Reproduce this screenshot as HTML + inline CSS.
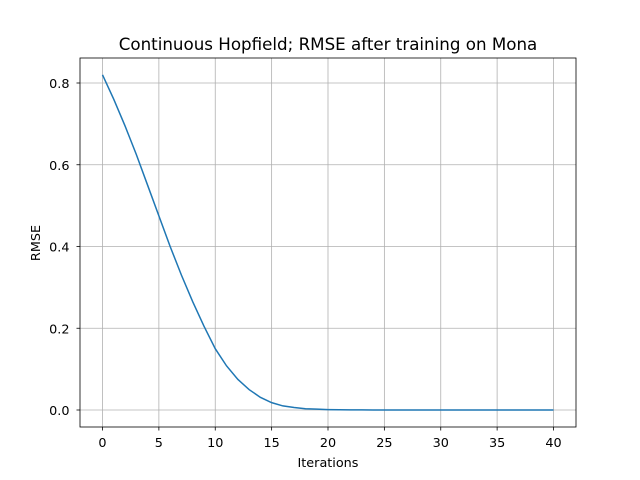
<!DOCTYPE html>
<html><head><meta charset="utf-8"><style>
body{margin:0;background:#fff;}
svg{display:block;font-family:"DejaVu Sans","Liberation Sans",sans-serif;}
</style></head><body>
<svg id="chart" width="640" height="480">
<rect x="0" y="0" width="640" height="480" fill="#fff"/>
<g id="grid"></g>
<g id="ticks"></g>
<path id="line" fill="none" stroke="#1f77b4" stroke-width="1.5"/>
<rect x="80" y="58" width="496" height="369" fill="none" stroke="#000" stroke-width="0.8"/>
<text x="328" y="50" font-size="16.7" text-anchor="middle">Continuous Hopfield; RMSE after training on Mona</text>
<text x="328" y="467" font-size="12.8" text-anchor="middle">Iterations</text>
<text x="40" y="243" font-size="12.8" text-anchor="middle" transform="rotate(-90 40 243)">RMSE</text>
</svg>
<script>
const iterations=[0,1,2,3,4,5,6,7,8,9,10,11,12,13,14,15,16,17,18,19,20,21,22,23,24,25,26,27,28,29,30,31,32,33,34,35,36,37,38,39,40];
const rmse=[0.82,0.76,0.695,0.625,0.55,0.475,0.40,0.33,0.265,0.205,0.15,0.108,0.075,0.05,0.031,0.018,0.01,0.006,0.003,0.002,0.001,0.0005,0.0003,0.0002,0.0001,0,0,0,0,0,0,0,0,0,0,0,0,0,0,0,0];
const xTicks=[0,5,10,15,20,25,30,35,40];
const yTicks=[0.0,0.2,0.4,0.6,0.8];
const yTickLabels=["0.0","0.2","0.4","0.6","0.8"];
const NS="http://www.w3.org/2000/svg";
function xs(v){return 102.5+v*(553.5-102.5)/40;}
function ys(v){return 410-v*(410-83)/0.8;}
const grid=document.getElementById('grid'),ticks=document.getElementById('ticks');
function mk(tag,attrs,parent){const e=document.createElementNS(NS,tag);for(const k in attrs)e.setAttribute(k,attrs[k]);parent.appendChild(e);return e;}
xTicks.forEach(t=>{const x=xs(t);
const g=mk('line',{x1:x,x2:x,y1:58,y2:427,stroke:'#b0b0b0','stroke-width':0.8},grid);


mk('line',{x1:x,x2:x,y1:427,y2:430.5,stroke:'#000','stroke-width':0.8},ticks);
const tx=mk('text',{x:x,y:447,'font-size':12.8,'text-anchor':'middle'},ticks);tx.textContent=t;

});
yTicks.forEach((t,i)=>{const y=ys(t);
const g=mk('line',{x1:80,x2:576,y1:y,y2:y,stroke:'#b0b0b0','stroke-width':0.8},grid);


mk('line',{x1:76.5,x2:80,y1:y,y2:y,stroke:'#000','stroke-width':0.8},ticks);
const tx=mk('text',{x:69.5,y:y+5,'font-size':12.8,'text-anchor':'end'},ticks);tx.textContent=yTickLabels[i];

});
document.getElementById('line').setAttribute('d',iterations.map((v,i)=>(i?'L':'M')+xs(v)+','+ys(rmse[i])).join(' '));
</script>
</body></html>
